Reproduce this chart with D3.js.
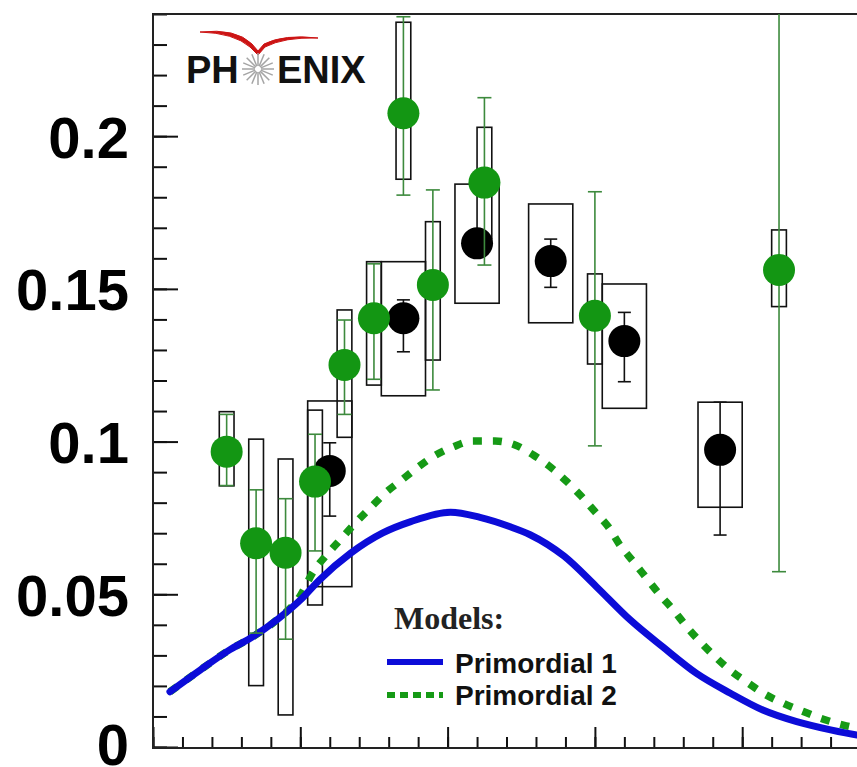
<!DOCTYPE html>
<html>
<head>
<meta charset="utf-8">
<script src="https://cdn.jsdelivr.net/npm/d3@7"></script>
<style>
  body { margin: 0; background: #fff; }
  svg { display: block; }
</style>
</head>
<body>
<div id="chart"></div>
<script>
// ---- data ----
const yTickValues = [0, 0.05, 0.1, 0.15, 0.2];
const yTickLabels = ["0", "0.05", "0.1", "0.15", "0.2"];

// green points (stat error bars + narrow sys boxes)
const greenX = [0.5, 0.7, 0.9, 1.1, 1.3, 1.5, 1.7, 1.9, 2.25, 3.0, 4.25];
const greenY = [0.0967, 0.0667, 0.0636, 0.0869, 0.1251, 0.1404, 0.2075, 0.1513, 0.1848, 0.1412, 0.1562];
const greenStatLo = [0.0856, 0.0373, 0.0353, 0.0642, 0.1089, 0.1204, 0.1807, 0.1169, 0.1578, 0.0986, 0.0574];
const greenStatHi = [0.1089, 0.0842, 0.0813, 0.1024, 0.1398, 0.1582, 0.2391, 0.1824, 0.2126, 0.1818, 0.26];
const greenSysLo = [0.0855, 0.0201, 0.0105, 0.0465, 0.1014, 0.1185, 0.1859, 0.1267, 0.1665, 0.1254, 0.1442];
const greenSysHi = [0.1098, 0.1008, 0.0943, 0.1103, 0.1431, 0.1589, 0.2373, 0.172, 0.2029, 0.1549, 0.1693];

// black points (wide sys boxes)
const blackX = [1.2, 1.7, 2.2, 2.7, 3.2, 3.85];
const blackY = [0.0904, 0.1404, 0.1649, 0.1591, 0.1329, 0.0973];
const blackStatLo = [0.0756, 0.1294, 0.161, 0.1505, 0.1196, 0.0694];
const blackStatHi = [0.0996, 0.1464, 0.169, 0.1663, 0.1423, 0.1129];
const blackSysLo = [0.0525, 0.115, 0.1453, 0.1389, 0.1109, 0.0785];
const blackSysHi = [0.1133, 0.1589, 0.1843, 0.1778, 0.1516, 0.1129];

// model curves
const prim1X = [0.115, 0.32, 0.52, 0.66, 0.84, 1.0, 1.13, 1.34, 1.56, 1.75, 2.02, 2.22, 2.42, 2.56, 2.79, 3.01, 3.24, 3.46, 3.69, 3.92, 4.14, 4.37, 4.6, 4.78, 5.0];
const prim1Y = [0.0181, 0.0252, 0.0318, 0.0356, 0.0416, 0.0481, 0.0547, 0.0634, 0.0701, 0.0738, 0.0769, 0.0752, 0.0722, 0.0695, 0.0625, 0.0525, 0.0416, 0.0328, 0.0241, 0.0176, 0.0121, 0.0083, 0.0056, 0.0039, 0.0026];
const prim2X = [0.115, 0.32, 0.52, 0.66, 0.84, 1.0, 1.088, 1.179, 1.27, 1.371, 1.473, 1.575, 1.688, 1.79, 1.903, 2.039, 2.174, 2.322, 2.458, 2.582, 2.707, 2.809, 2.91, 3.001, 3.091, 3.17, 3.261, 3.352, 3.442, 3.532, 3.623, 3.714, 3.815, 3.917, 4.041, 4.143, 4.279, 4.415, 4.551, 4.686, 4.85, 5.0];
const prim2Y = [0.0181, 0.0252, 0.0318, 0.0356, 0.0416, 0.0495, 0.0574, 0.0629, 0.0678, 0.0732, 0.0782, 0.0831, 0.0874, 0.0913, 0.0951, 0.0983, 0.1002, 0.1002, 0.0989, 0.0956, 0.0913, 0.0869, 0.082, 0.077, 0.0721, 0.0661, 0.0607, 0.0552, 0.0498, 0.0449, 0.0394, 0.0345, 0.0296, 0.0252, 0.0209, 0.0176, 0.0143, 0.0116, 0.0091, 0.0072, 0.0056, 0.0045];

const legendLabels = ["Primordial 1", "Primordial 2"];

// ---- layout ----
const W = 857, H = 767;
const plotLeft = 153, plotTop = 14, plotBottom = 748;
const R = 16;
const GREEN = "#139613";
const GREEN_BAR = "#3d8a3d";
const BLUE = "#0c0cd8";

const x = d3.scaleLinear().domain([0, 5]).range([plotLeft, plotLeft + 5 * 147.3]);
const y = d3.scaleLinear().domain([0, 0.24]).range([747, plotTop]);

const svg = d3.select("#chart")
  .append("svg")
  .attr("width", W)
  .attr("height", H)
  .style("background", "#fff");

svg.append("defs").append("clipPath")
  .attr("id", "plot-clip")
  .append("rect")
  .attr("x", plotLeft).attr("y", plotTop)
  .attr("width", W - plotLeft).attr("height", plotBottom - plotTop);

// axes: ticks inside the frame
const yMinor = d3.range(0, 0.2401, 0.01);
const xMinor = d3.range(0, 5.01, 0.2);
const xMajor = d3.range(0, 5.01, 1);

function tickStyle(g) {
  g.select(".domain").remove();
  g.selectAll("line").attr("stroke", "#111").attr("stroke-width", 2);
}

svg.append("g")
  .attr("transform", `translate(${plotLeft},0)`)
  .call(d3.axisRight(y).tickValues(yMinor).tickSize(14).tickFormat(""))
  .call(tickStyle);

svg.append("g")
  .attr("transform", `translate(${plotLeft},0)`)
  .call(d3.axisRight(y).tickValues(yTickValues).tickSize(25).tickFormat(""))
  .call(tickStyle);

// tick labels (the "0" sits at the bottom edge, nudge it so it stays on the page)
svg.append("g")
  .attr("transform", `translate(${plotLeft},0)`)
  .call(d3.axisLeft(y).tickValues(yTickValues).tickSize(0).tickPadding(24)
    .tickFormat((d, i) => yTickLabels[i]))
  .call(g => g.select(".domain").remove())
  .call(g => g.selectAll("text")
    .attr("dy", d => d === 0 ? "0.31em" : "0.36em")
    .attr("fill", "#000")
    .style("font-family", "'Liberation Sans', Arial, sans-serif")
    .style("font-weight", "bold")
    .style("font-size", "58px"));

svg.append("g")
  .attr("transform", `translate(0,${plotBottom})`)
  .call(d3.axisTop(x).tickValues(xMinor).tickSize(11).tickFormat(""))
  .call(tickStyle);

svg.append("g")
  .attr("transform", `translate(0,${plotBottom})`)
  .call(d3.axisTop(x).tickValues(xMajor).tickSize(21).tickFormat(""))
  .call(tickStyle);

// frame
svg.append("rect")
  .attr("x", plotLeft).attr("y", plotTop)
  .attr("width", x(5) - plotLeft).attr("height", plotBottom - plotTop)
  .attr("fill", "none")
  .attr("stroke", "#222")
  .attr("stroke-width", 2);

const plot = svg.append("g").attr("clip-path", "url(#plot-clip)");

const black = blackX.map((v, i) => ({
  x: v, y: blackY[i], lo: blackStatLo[i], hi: blackStatHi[i], slo: blackSysLo[i], shi: blackSysHi[i]
}));
const green = greenX.map((v, i) => ({
  x: v, y: greenY[i], lo: greenStatLo[i], hi: greenStatHi[i], slo: greenSysLo[i], shi: greenSysHi[i]
}));

// systematic boxes
function drawBoxes(data, half, cls) {
  plot.selectAll("rect." + cls)
    .data(data)
    .enter()
    .append("rect")
    .attr("class", cls)
    .attr("x", d => x(d.x - half))
    .attr("width", d => x(d.x + half) - x(d.x - half))
    .attr("y", d => y(d.shi))
    .attr("height", d => y(d.slo) - y(d.shi))
    .attr("fill", "none")
    .attr("stroke", "#111")
    .attr("stroke-width", 1.6);
}
drawBoxes(black, 0.15, "bsys");
drawBoxes(green, 0.05, "gsys");

// model curves
const line = d3.line()
  .x(d => x(d[0]))
  .y(d => y(d[1]))
  .curve(d3.curveMonotoneX);

plot.append("path")
  .datum(prim2X.map((v, i) => [v, prim2Y[i]]))
  .attr("d", line)
  .attr("fill", "none")
  .attr("stroke", "#169a16")
  .attr("stroke-width", 7.5)
  .attr("stroke-dasharray", "9,11");

plot.append("path")
  .datum(prim1X.map((v, i) => [v, prim1Y[i]]))
  .attr("d", line)
  .attr("fill", "none")
  .attr("stroke", BLUE)
  .attr("stroke-width", 7)
  .attr("stroke-linecap", "round");

// error bars with caps
function drawErrors(data, color, capHalf, cls) {
  let g = plot.append("g").attr("class", cls);
  g.selectAll("line.v")
    .data(data)
    .enter()
    .append("line")
    .attr("x1", d => x(d.x)).attr("x2", d => x(d.x))
    .attr("y1", d => y(d.hi)).attr("y2", d => y(d.lo))
    .attr("stroke", color).attr("stroke-width", 1.6);
  g.selectAll("line.top")
    .data(data)
    .enter()
    .append("line")
    .attr("x1", d => x(d.x) - capHalf).attr("x2", d => x(d.x) + capHalf)
    .attr("y1", d => y(d.hi)).attr("y2", d => y(d.hi))
    .attr("stroke", color).attr("stroke-width", 1.6);
  g.selectAll("line.bot")
    .data(data)
    .enter()
    .append("line")
    .attr("x1", d => x(d.x) - capHalf).attr("x2", d => x(d.x) + capHalf)
    .attr("y1", d => y(d.lo)).attr("y2", d => y(d.lo))
    .attr("stroke", color).attr("stroke-width", 1.6);
}

drawErrors(black, "#111", 6.5, "berr");

plot.selectAll("circle.bpt")
  .data(black)
  .enter()
  .append("circle")
  .attr("class", "bpt")
  .attr("cx", d => x(d.x))
  .attr("cy", d => y(d.y))
  .attr("r", R)
  .attr("fill", "#000");

drawErrors(green, GREEN_BAR, 7, "gerr");

plot.selectAll("circle.gpt")
  .data(green)
  .enter()
  .append("circle")
  .attr("class", "gpt")
  .attr("cx", d => x(d.x))
  .attr("cy", d => y(d.y))
  .attr("r", R)
  .attr("fill", GREEN);

// legend
const legend = svg.append("g");
legend.append("text")
  .attr("x", 394).attr("y", 629)
  .style("font-family", "'Liberation Serif', 'Times New Roman', serif")
  .style("font-weight", "bold")
  .style("font-size", "32px")
  .attr("fill", "#222")
  .text("Models:");

legend.append("line")
  .attr("x1", 387).attr("x2", 443).attr("y1", 662).attr("y2", 662)
  .attr("stroke", BLUE).attr("stroke-width", 6);
legend.append("line")
  .attr("x1", 387).attr("x2", 443).attr("y1", 695).attr("y2", 695)
  .attr("stroke", "#169a16").attr("stroke-width", 6)
  .attr("stroke-dasharray", "8,5");

legend.selectAll("text.lab")
  .data(legendLabels)
  .enter()
  .append("text")
  .attr("class", "lab")
  .attr("x", 455)
  .attr("y", (d, i) => 673 + i * 32)
  .style("font-family", "'Liberation Sans', Arial, sans-serif")
  .style("font-weight", "bold")
  .style("font-size", "28px")
  .attr("fill", "#111")
  .text(d => d);

// PHENIX logo: red swoosh, text and a grey starburst for the "O"
const logo = svg.append("g");
logo.append("path")
  .attr("d", "M200,32 Q236,28 252,44 L258,51 L264,44 Q284,34 318,38 Q284,37 265,47 L258,55 L250,47 Q234,33 200,32 Z")
  .attr("fill", "#cc1414")
  .attr("stroke", "#cc1414")
  .attr("stroke-width", 1)
  .attr("stroke-linejoin", "round");

logo.append("text")
  .attr("x", 186).attr("y", 83)
  .style("font-family", "'Liberation Sans', Arial, sans-serif")
  .style("font-weight", "bold")
  .style("font-size", "38px")
  .attr("fill", "#111")
  .text("PH");
logo.append("text")
  .attr("x", 277).attr("y", 83)
  .style("font-family", "'Liberation Sans', Arial, sans-serif")
  .style("font-weight", "bold")
  .style("font-size", "38px")
  .attr("fill", "#111")
  .text("ENIX");

const rays = d3.range(0, 16);
logo.selectAll("line.ray")
  .data(rays)
  .enter()
  .append("line")
  .attr("class", "ray")
  .attr("x1", d => 258 + 3 * Math.cos(d * Math.PI / 8))
  .attr("y1", d => 69 + 3 * Math.sin(d * Math.PI / 8))
  .attr("x2", d => 258 + 16 * Math.cos(d * Math.PI / 8))
  .attr("y2", d => 69 + 16 * Math.sin(d * Math.PI / 8))
  .attr("stroke", "#a5a5a5")
  .attr("stroke-width", 1.5);
</script>
</body>
</html>
